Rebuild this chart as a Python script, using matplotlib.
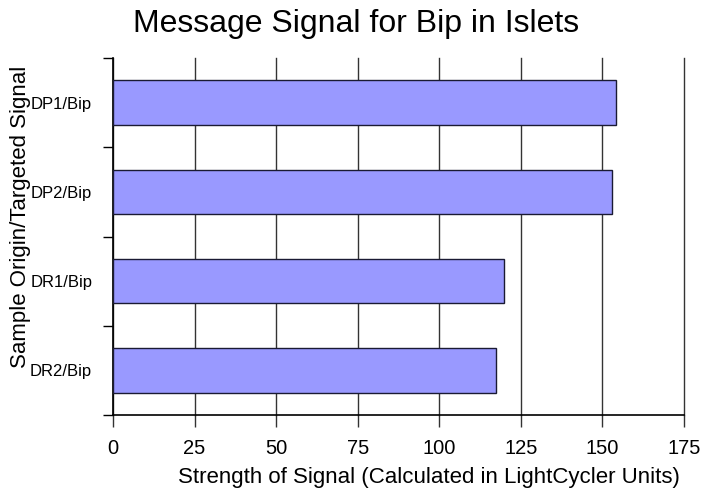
import matplotlib
matplotlib.use("Agg")
import matplotlib.pyplot as plt
import numpy as np

categories = ["DP1/Bip", "DP2/Bip", "DR1/Bip", "DR2/Bip"]
values = [154.2, 152.9, 119.9, 117.5]
xticks = [0, 25, 50, 75, 100, 125, 150, 175]

plt.rcParams['font.family'] = ['Liberation Sans', 'DejaVu Sans']

fig = plt.figure(figsize=(7.03, 4.92), dpi=100)
ax = fig.add_axes([113/703, 1-415/492, (684-113)/703, (415-58)/492])

y = np.arange(len(categories))
ax.barh(y, values, height=0.5, color="#9999FF", edgecolor="#1a1a33", linewidth=1.0, zorder=3)
ax.set_ylim(len(categories)-0.5, -0.5)
ax.set_xlim(0, 175)

ax.set_xticks(xticks)
ax.set_xticklabels([str(t) for t in xticks], fontsize=14.5)
ax.xaxis.grid(True, color="#333333", linewidth=1.0, zorder=0)
for gl in ax.get_xgridlines():
    gl.set_clip_on(False)
ax.tick_params(axis='x', direction='out', length=8.6, width=1.0, color="#333333", pad=9)

ax.set_yticks(np.arange(-0.5, len(categories)+0.5, 1.0))
ax.set_yticklabels([])
ax.set_yticks(y, minor=True)
ax.set_yticklabels(categories, minor=True, fontsize=12)
ax.tick_params(axis='y', which='major', direction='out', length=7, width=1.0)
ax.tick_params(axis='y', which='minor', length=0, pad=15)

for s in ["top", "right"]:
    ax.spines[s].set_visible(False)
ax.spines["left"].set_linewidth(1.2)
ax.spines["bottom"].set_linewidth(1.2)

ax.set_title("Message Signal for Bip in Islets", fontsize=23, pad=19, x=(356-113)/571)
ax.set_xlabel("Strength of Signal (Calculated in LightCycler Units)", fontsize=16, va='center')
ax.xaxis.set_label_coords((429-113)/571, -(477-415)/357)
fig.text(21/703, 1-217/492, "Sample Origin/Targeted Signal", rotation=90, fontsize=16,
         ha='center', va='center')

fig.savefig("out.png", dpi=100)
